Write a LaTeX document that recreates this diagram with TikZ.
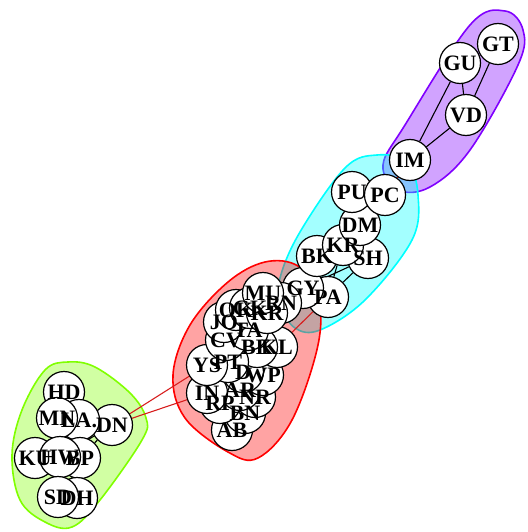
\documentclass[tikz,border=0pt]{standalone}
\usepackage{fontspec}
\setmainfont{Liberation Serif}
\usetikzlibrary{calc}
\definecolor{hullred}{RGB}{255, 0, 0}
\definecolor{hullgreen}{RGB}{128, 255, 0}
\definecolor{hullcyan}{RGB}{0, 255, 255}
\definecolor{hullpurple}{RGB}{128, 0, 255}
\definecolor{crossred}{RGB}{215, 30, 30}
\pgfdeclarelayer{hull}
\pgfdeclarelayer{edges}
\pgfsetlayers{hull,edges,main}

\begin{document}
\begin{tikzpicture}[x=1pt, y=-1pt,
    vtx/.style={circle, draw=black, line width=1.2pt, fill=white, minimum size=41pt, inner sep=0pt},
    vlabel/.style={inner sep=0pt, font=\fontsize{22}{22}\selectfont\bfseries},
    hullshape/.style={line width=1.6pt, fill opacity=0.36},
    inner/.style={black, line width=1.1pt},
    cross/.style={crossred, line width=1.1pt}]

        \useasboundingbox (0,0) rectangle (527,532);

        % Group 1
        \node[vtx] (IM) at (410,160) {};
        \node[vtx] (VD) at (466,115) {};
        \node[vtx] (GU) at (460,63) {};
        \node[vtx] (GT) at (498,44) {};

        % Group 2
        \node[vtx] (PA) at (328,297) {};
        \node[vtx] (GY) at (303,288) {};
        \node[vtx] (SH) at (368,258) {};
        \node[vtx] (BK) at (317,256) {};
        \node[vtx] (KR) at (343,245) {};
        \node[vtx] (DM) at (360,225) {};
        \node[vtx] (PU) at (352,192) {};
        \node[vtx] (PC) at (385,195) {};

        % Group 3
        \node[vtx] (AB) at (232,430) {};
        \node[vtx] (BN) at (245,413) {};
        \node[vtx] (RP) at (220,403) {};
        \node[vtx] (NR) at (255,397) {};
        \node[vtx] (AR) at (240,390) {};
        \node[vtx] (IN) at (207,393) {};
        \node[vtx] (WP) at (263,375) {};
        \node[vtx] (DW) at (243,372) {};
        \node[vtx] (KL) at (277,347) {};
        \node[vtx] (BH) at (257,347) {};
        \node[vtx] (PT) at (228,362) {};
        \node[vtx] (YS) at (207,365) {};
        \node[vtx] (CV) at (226,340) {};
        \node[vtx] (TA) at (248,330) {};
        \node[vtx] (JO) at (224,322) {};
        \node[vtx] (OK) at (236,310) {};
        \node[vtx] (GK) at (250,308) {};
        \node[vtx] (RN) at (281,303) {};
        \node[vtx] (KM) at (267,313) {};
        \node[vtx] (MU) at (263,293) {};

        % Group 4
        \node[vtx] (DN) at (112,425) {};
        \node[vtx] (HD) at (64,392) {};
        \node[vtx] (LA) at (79,420) {};
        \node[vtx] (MN) at (57,418) {};
        \node[vtx] (BP) at (80,458) {};
        \node[vtx] (KU) at (35,458) {};
        \node[vtx] (HW) at (60,457) {};
        \node[vtx] (DH) at (77,498) {};
        \node[vtx] (SD) at (58,497) {};

        % Labels on top of all circles
        \foreach \v/\t in {IM/IM, VD/VD, GU/GU, GT/GT,
                PA/PA, GY/GY, SH/SH, BK/BK, KR/KR, DM/DM, PU/PU, PC/PC,
                AB/AB, BN/BN, RP/RP, NR/NR, AR/AR, IN/IN, WP/WP, DW/D, KL/KL, BH/BK,
                PT/PT, YS/YS, CV/CV, TA/TA, JO/JO, OK/OK, GK/GK, RN/RN, KM/KR, MU/MU,
                DN/DN, HD/HD, LA/LA., MN/MN, BP/BP, KU/KU, HW/HW, DH/DH, SD/SD}
            \node[vlabel] (\v-t) at (\v) {\t};

        % Hulls
        \begin{pgfonlayer}{hull}
        \draw[hullshape, hullpurple, fill=hullpurple] plot[smooth cycle, tension=0.6] coordinates
            {(383,165) (405,125) (470,25) (505,11) (523,30) (518,65) (470,150) (430,187) (398,190)};
        \draw[hullshape, hullcyan, fill=hullcyan] plot[smooth cycle, tension=0.6] coordinates
            {(280,278) (300,232) (345,168) (377,155) (407,162) (418,195) (412,240) (365,300) (320,330) (295,328) (281,305)};
        \draw[hullshape, hullred, fill=hullred] plot[smooth cycle, tension=0.6] coordinates
            {(173,375) (190,325) (228,282) (265,262) (298,266) (318,295) (318,345) (292,420) (258,458) (228,452) (185,418)};
        \draw[hullshape, hullgreen, fill=hullgreen] plot[smooth cycle, tension=0.6] coordinates
            {(12,455) (22,410) (45,370) (68,362) (95,367) (130,393) (146,418) (142,440) (100,500) (72,527) (45,522) (20,500)};
        \end{pgfonlayer}

        % Edges
        \begin{pgfonlayer}{edges}
        \draw[inner] (GU) -- (VD) (GU) -- (IM) (GT) -- (VD) (VD) -- (IM) (GU) -- (GT);
        \draw[inner] (PU) -- (DM) (PC) -- (PU) (DM) -- (KR) (KR) -- (BK) (KR) -- (SH)
            (SH) -- (PA) (SH) -- (GY) (BK) -- (PA) (KR) -- (PA);
        \draw[inner] (MU) -- (KL) (OK) -- (AB) (YS) -- (WP) (JO) -- (BN) (RN) -- (AR);
        \draw[inner] (DN) -- (HW) (DN) -- (BP) (DN) -- (KU) (DN) -- (LA)
            (HD) -- (SD) (MN) -- (DH);
        \draw[cross] (IM) -- (PC) (PC) -- (DM) (GY) -- (RN) (GY) -- (MU) (PA) -- (KL)
            (DN) -- (YS) (DN) -- (IN);
        \end{pgfonlayer}

    \end{tikzpicture}
\end{document}
